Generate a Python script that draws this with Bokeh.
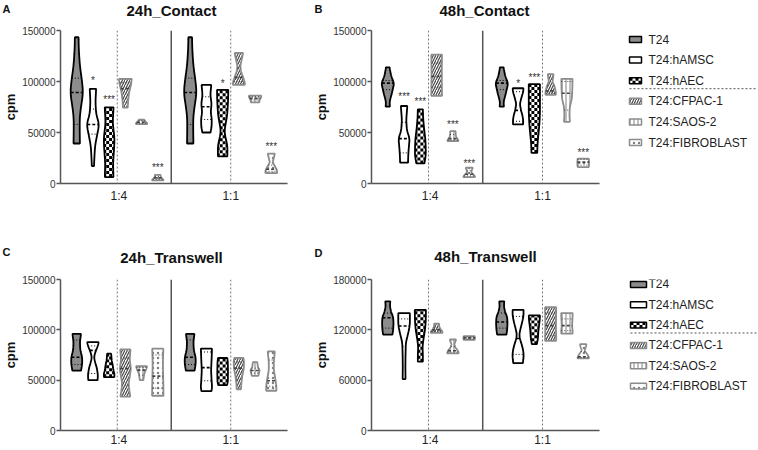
import numpy as np
from bokeh.plotting import figure
from bokeh.models import Range1d, FixedTicker, Span, NumeralTickFormatter
from bokeh.layouts import row, column
from bokeh.embed import file_html
from bokeh.resources import INLINE
from bokeh.core.properties import value

# ---------------- data ----------------
groups = ["1:4", "1:1"]
cells = ["T24", "T24:hAMSC", "T24:hAEC", "T24:CFPAC-1", "T24:SAOS-2", "T24:FIBROBLAST"]
titles = ["24h_Contact", "48h_Contact", "24h_Transwell", "48h_Transwell"]
letters = ["A", "B", "C", "D"]
yticks_ABC = [0, 50000, 100000, 150000]
yticks_D = [0, 60000, 120000, 180000]

# violin profiles: y levels (cpm) and relative half-widths; order = 1:4 (6 cells), 1:1 (6 cells)
A_ys = [[39200, 50000, 65000, 75000, 89000, 100000, 115000, 130000, 143400],
        [17100, 25000, 37000, 48000, 58000, 68000, 80000, 92800],
        [6300, 20000, 35000, 44000, 60000, 74700],
        [74400, 82000, 90000, 97000, 102600],
        [58200, 59500, 61000, 62500],
        [3000, 5000, 7000, 8500],
        [39200, 50000, 65000, 75000, 89000, 100000, 115000, 130000, 143400],
        [50000, 55000, 63000, 70000, 78000, 87000, 96700],
        [26600, 33000, 39000, 45000, 51000, 58000, 66000, 76000, 85000, 91800],
        [96700, 100000, 105000, 110000, 115000, 120000, 128000],
        [79600, 82000, 84500, 86200],
        [10200, 13000, 17000, 21000, 25000, 29300]]
A_ws = [[0.45, 0.42, 0.42, 0.6, 0.9, 0.75, 0.45, 0.3, 0.25],
        [0.15, 0.2, 0.3, 0.6, 0.88, 0.45, 0.35, 0.45],
        [0.6, 0.55, 0.7, 0.75, 0.5, 0.62],
        [0.33, 0.4, 0.55, 0.8, 0.9],
        [0.8, 0.75, 0.5, 0.4],
        [0.85, 0.6, 0.4, 0.4],
        [0.45, 0.42, 0.42, 0.6, 0.9, 0.75, 0.45, 0.3, 0.25],
        [0.55, 0.72, 0.75, 0.6, 0.72, 0.55, 0.68],
        [0.65, 0.68, 0.62, 0.4, 0.25, 0.4, 0.62, 0.72, 0.78, 0.78],
        [0.85, 0.8, 0.55, 0.3, 0.2, 0.35, 0.6],
        [0.6, 0.62, 0.85, 0.85],
        [0.83, 0.8, 0.5, 0.2, 0.35, 0.5]]
A_med = [89200, 57900, 44000, 93000, 60000, 5500, 89200, 75300, 62000, 104000, 83500, 14000]
A_q1 = [57900, 48400, 28000, 83000, 59000, 4000, 57900, 62800, 38000, 100000, 82000, 12000]
A_q3 = [103300, 73000, 58000, 99000, 61500, 7000, 103300, 85000, 84000, 113000, 85000, 18000]
A_stars = [(1, "*", 104000), (2, "***", 85000), (5, "***", 18400), (8, "*", 100600), (11, "***", 39000)]

B_ys = [[75300, 80000, 88000, 98000, 106000, 113800],
        [20400, 30000, 40000, 44000, 52000, 62000, 76000],
        [19700, 27000, 35000, 43000, 55000, 65000, 72700],
        [85900, 95000, 105000, 115000, 126300],
        [41500, 43000, 46000, 49000, 51300],
        [6300, 8000, 11000, 13000, 15500],
        [75300, 80000, 88000, 98000, 106000, 113800],
        [57900, 62000, 67000, 72000, 78000, 85000, 90000, 93400],
        [30000, 40000, 50000, 60000, 70000, 80000, 90000, 97400],
        [86900, 90000, 95000, 100000, 104000, 107300],
        [60500, 67000, 75000, 83000, 92000, 102600],
        [16100, 18000, 21000, 24300]]
B_ws = [[0.3, 0.25, 0.55, 0.88, 0.45, 0.25],
        [0.55, 0.6, 0.72, 0.78, 0.4, 0.3, 0.45],
        [0.55, 0.75, 0.75, 0.7, 0.5, 0.38, 0.35],
        [0.75, 0.73, 0.72, 0.72, 0.75],
        [0.78, 0.7, 0.45, 0.38, 0.38],
        [0.85, 0.7, 0.3, 0.35, 0.5],
        [0.3, 0.25, 0.55, 0.88, 0.45, 0.25],
        [0.7, 0.72, 0.6, 0.4, 0.25, 0.5, 0.72, 0.75],
        [0.4, 0.45, 0.6, 0.72, 0.78, 0.78, 0.78, 0.78],
        [0.72, 0.72, 0.55, 0.25, 0.35, 0.4],
        [0.42, 0.35, 0.4, 0.68, 0.75, 0.78],
        [0.78, 0.8, 0.82, 0.78]]
B_med = [98400, 44000, 40800, 105000, 44000, 9000, 98400, 71700, 65000, 90800, 88500, 21000]
B_q1 = [92000, 30000, 30000, 94000, 42500, 7500, 92000, 61000, 50000, 88500, 72000, 18000]
B_q3 = [101000, 60000, 52000, 118000, 48000, 12500, 101000, 90000, 85000, 96000, 100000, 23500]
B_stars = [(1, "***", 87800), (2, "***", 83600), (4, "***", 60500), (5, "***", 22700),
           (7, "*", 100700), (8, "***", 107000), (11, "***", 33600)]

C_ys = [[59500, 63000, 68000, 73000, 80000, 88000, 96000],
        [50000, 55000, 62000, 68000, 73000, 78000, 84000, 87800],
        [53000, 56000, 60000, 65000, 70000, 76300],
        [33600, 40000, 47000, 55000, 62000, 70000, 80600],
        [50000, 53000, 57000, 61000, 63800],
        [34500, 45000, 55000, 65000, 75000, 81300],
        [59500, 63000, 68000, 73000, 80000, 88000, 96000],
        [39200, 42000, 50000, 60000, 70000, 81300],
        [45000, 48000, 58000, 68000, 72000],
        [41000, 47000, 55000, 62000, 68000, 72000],
        [54300, 57000, 60000, 63000, 68000],
        [39500, 45000, 52000, 60000, 68000, 78600]]
C_ws = [[0.6, 0.7, 0.78, 0.75, 0.5, 0.45, 0.6],
        [0.65, 0.7, 0.55, 0.3, 0.15, 0.35, 0.68, 0.82],
        [0.72, 0.75, 0.6, 0.5, 0.35, 0.28],
        [0.7, 0.55, 0.45, 0.65, 0.78, 0.6, 0.72],
        [0.25, 0.3, 0.4, 0.65, 0.78],
        [0.8, 0.78, 0.75, 0.72, 0.75, 0.78],
        [0.6, 0.7, 0.78, 0.75, 0.5, 0.45, 0.6],
        [0.68, 0.8, 0.72, 0.65, 0.72, 0.78],
        [0.6, 0.72, 0.75, 0.72, 0.65],
        [0.3, 0.35, 0.5, 0.7, 0.72, 0.65],
        [0.45, 0.55, 0.65, 0.4, 0.3],
        [0.72, 0.7, 0.55, 0.35, 0.35, 0.5]]
C_med = [72700, 79600, 58000, 61500, 60000, 54000, 72700, 62500, 57000, 62000, 59600, 49400]
C_q1 = [65500, 56600, 55000, 45000, 55000, 42000, 65500, 49400, 50000, 50000, 57000, 44000]
C_q3 = [90000, 84000, 66000, 72000, 62500, 75000, 90000, 78000, 66000, 68000, 62000, 70000]
C_stars = []

D_ys = [[114400, 120000, 128000, 135000, 142000, 148000, 154000],
        [61300, 75000, 90000, 105000, 115000, 125000, 132000, 140000],
        [82100, 90000, 100000, 110000, 120000, 130000, 143800],
        [116300, 118000, 121000, 124000, 127300],
        [92000, 95000, 99000, 103000, 108500],
        [108000, 110400, 112400],
        [114400, 120000, 128000, 135000, 142000, 148000, 154000],
        [80200, 85000, 92000, 100000, 108000, 113600, 120000, 130000, 138000, 143800],
        [103000, 110000, 118000, 125000, 132000, 137200],
        [106900, 115000, 125000, 135000, 147000],
        [115500, 120000, 125000, 130000, 135000, 140000],
        [86000, 89000, 93000, 96000, 99000, 103000]]
D_ws = [[0.65, 0.75, 0.8, 0.75, 0.45, 0.3, 0.35],
        [0.2, 0.18, 0.2, 0.25, 0.55, 0.8, 0.82, 0.8],
        [0.35, 0.35, 0.3, 0.45, 0.65, 0.75, 0.78],
        [0.82, 0.8, 0.55, 0.35, 0.35],
        [0.82, 0.7, 0.35, 0.2, 0.45],
        [0.78, 0.8, 0.78],
        [0.65, 0.75, 0.8, 0.75, 0.45, 0.3, 0.35],
        [0.65, 0.75, 0.78, 0.6, 0.3, 0.15, 0.3, 0.6, 0.78, 0.75],
        [0.35, 0.5, 0.55, 0.65, 0.75, 0.78],
        [0.78, 0.76, 0.74, 0.76, 0.78],
        [0.8, 0.78, 0.72, 0.75, 0.78, 0.8],
        [0.82, 0.7, 0.4, 0.2, 0.35, 0.45]]
D_med = [134400, 124600, 125000, 120000, 95000, 110400, 129300, 109600, 126000, 125000, 125000, 88000]
D_q1 = [122000, 100000, 105000, 118000, 93500, 109000, 122000, 90800, 115000, 113000, 119000, 87000]
D_q3 = [140000, 133000, 138000, 123000, 100000, 111500, 140000, 136000, 133000, 140000, 133000, 94000]
D_stars = []

# ---------------- styling ----------------
FONT = "Liberation Sans"
MAXW = 0.44
GRAY_LINE = "#8c8c8c"
FRAME_W = 232.0
FRAME_H = 153.0
STYLES = [
    dict(fill_color="#8c8c8c", line_color="black"),
    dict(fill_color="white", line_color="black"),
    dict(fill_color="white", line_color="black"),
    dict(fill_color="white", line_color=GRAY_LINE, hatch_pattern="right_diagonal_line",
         hatch_color="#454545", hatch_scale=5, hatch_weight=1.2),
    dict(fill_color="white", line_color=GRAY_LINE, hatch_pattern="vertical_line",
         hatch_color="#808080", hatch_scale=4, hatch_weight=1),
    dict(fill_color="white", line_color=GRAY_LINE, hatch_pattern="dot",
         hatch_color="#808080", hatch_scale=5, hatch_weight=1),
]
MED_COL = ["black", "black", "black", "#444444", "#444444", "#444444"]
POS = [g * 7 + c + 1 for g in range(2) for c in range(6)]


def smooth_profile(ys, ws):
    ys = np.asarray(ys, float)
    ws = np.asarray(ws, float)
    yy = np.linspace(ys[0], ys[-1], 41)
    ww = np.interp(yy, ys, ws)
    if len(ys) > 3:
        pad = np.concatenate([np.full(2, ww[0]), ww, np.full(2, ww[-1])])
        ww = np.convolve(pad, np.ones(5) / 5, mode="valid")
    return yy, ww


def checker_cells(cx, yy, ww, dx, dy):
    L, R, B, T = [], [], [], []
    y = yy[0]
    r = 0
    while y < yy[-1] - 1e-9:
        y2 = min(y + dy, yy[-1])
        w = np.interp((y + y2) / 2, yy, ww) * MAXW
        j0 = int(np.floor(-w / dx))
        j1 = int(np.ceil(w / dx))
        for j in range(j0, j1):
            if (r + j) % 2:
                continue
            x0 = max(cx + j * dx, cx - w)
            x1 = min(cx + (j + 1) * dx, cx + w)
            if x1 > x0:
                L.append(x0); R.append(x1); B.append(y); T.append(y2)
        y = y2
        r += 1
    return L, R, B, T


def make_panel(k, ys_l, ws_l, med, q1, q3, stars, ymax, yticks, width, height,
               bleft, bright, btop, bbottom, xstand):
    p = figure(width=width, height=height, x_range=Range1d(0, 14), y_range=Range1d(0, ymax),
               output_backend="svg", toolbar_location=None,
               min_border_left=bleft, min_border_right=bright, min_border_top=btop,
               min_border_bottom=bbottom)
    p.title.visible = False
    p.outline_line_color = None
    p.xgrid.visible = False
    p.ygrid.visible = False
    p.background_fill_color = "white"
    p.border_fill_color = "white"

    p.add_layout(Span(location=6.83, dimension="height", line_color="#555555", line_width=1.5))
    for loc in (3.5, 10.5):
        p.add_layout(Span(location=loc, dimension="height", line_color="#777777",
                          line_width=1, line_dash="2 2"))

    dx = 3.0 * 14 / FRAME_W
    dy = 3.0 * ymax / FRAME_H
    for c in range(6):
        xs_all, ys_all = [], []
        mx0, mx1, my = [], [], []
        qx0, qx1, qy = [], [], []
        cl, cr, cb, ct = [], [], [], []
        for g in range(2):
            i = g * 6 + c
            yy, ww = smooth_profile(ys_l[i], ws_l[i])
            cx = POS[i]
            xs_all.append(list(cx - ww * MAXW) + list(cx + ww[::-1] * MAXW))
            ys_all.append(list(yy) + list(yy[::-1]))
            wm = np.interp(med[i], yy, ww) * MAXW
            mx0.append(cx - wm); mx1.append(cx + wm); my.append(med[i])
            for qv in (q1[i], q3[i]):
                wq = np.interp(qv, yy, ww) * MAXW
                qx0.append(cx - wq); qx1.append(cx + wq); qy.append(qv)
            if c == 2:
                L, R, B, T = checker_cells(cx, yy, ww, dx, dy)
                cl += L; cr += R; cb += B; ct += T
        if c == 2:
            p.patches(xs=xs_all, ys=ys_all, fill_color="white", line_color=None)
            p.quad(left=cl, right=cr, bottom=cb, top=ct, fill_color="black", line_color=None)
            p.patches(xs=xs_all, ys=ys_all, fill_color=None, line_color="black", line_width=1.8)
        else:
            p.patches(xs=xs_all, ys=ys_all, line_width=1.8, **STYLES[c])
            p.segment(x0=qx0, x1=qx1, y0=qy, y1=qy, line_color=MED_COL[c], line_width=1,
                      line_dash="1 2")
            p.segment(x0=mx0, x1=mx1, y0=my, y1=my, line_color=MED_COL[c], line_width=1.6,
                      line_dash="3 2")

    if stars:
        p.text(x=[POS[s[0]] for s in stars], y=[s[2] for s in stars], text=[s[1] for s in stars],
               text_font=value(FONT), text_font_size="10px", text_color="#333333",
               text_align="center", text_baseline="middle", y_offset=3)

    xa = p.xaxis[0]
    xa.ticker = FixedTicker(ticks=[3.6, 10.5])
    xa.major_label_overrides = {3.6: groups[0], 10.5: groups[1]}
    xa.major_tick_out = 0
    xa.major_tick_in = 0
    xa.minor_tick_out = 0
    xa.minor_tick_in = 0
    xa.axis_line_color = "#555555"
    xa.axis_line_width = 1.5
    xa.major_label_text_font = FONT
    xa.major_label_text_font_size = "12px"
    xa.major_label_text_color = "#222222"
    xa.major_label_standoff = xstand

    ya = p.yaxis[0]
    ya.ticker = FixedTicker(ticks=yticks)
    ya.formatter = NumeralTickFormatter(format="0")
    ya.major_tick_out = 4
    ya.major_tick_in = 0
    ya.minor_tick_out = 0
    ya.minor_tick_in = 0
    ya.axis_line_color = "#555555"
    ya.axis_line_width = 1.5
    ya.major_tick_line_color = "#555555"
    ya.major_tick_line_width = 1.5
    ya.major_label_text_font = FONT
    ya.major_label_text_font_size = "10px"
    ya.major_label_text_color = "#333333"
    ya.major_label_standoff = 1
    ya.axis_label = "cpm"
    ya.axis_label_text_font = FONT
    ya.axis_label_text_font_size = "13px"
    ya.axis_label_text_font_style = "bold"
    ya.axis_label_text_color = "#111111"
    ya.axis_label_standoff = 1
    return p


def make_legend(width, height, btop, bbottom, x0, y0, sw):
    lg = figure(width=width, height=height, x_range=Range1d(0, width),
                y_range=Range1d(height - bbottom, btop),
                output_backend="svg", toolbar_location=None, x_axis_type=None, y_axis_type=None,
                min_border_left=0, min_border_right=0, min_border_top=btop, min_border_bottom=bbottom)
    lg.title.visible = False
    lg.outline_line_color = None
    lg.xgrid.visible = False
    lg.ygrid.visible = False
    rows = [y0 + i * 20.6 for i in range(6)]
    for c in range(6):
        if c == 2:
            lg.quad(left=[x0], right=[x0 + sw], top=[rows[c] - 3], bottom=[rows[c] + 3],
                    fill_color="white", line_color=None)
            L, R, B, T = [], [], [], []
            for r in range(2):
                for j in range(int(np.ceil(sw / 3.0))):
                    if (r + j) % 2 == 0:
                        L.append(x0 + 3 * j); R.append(min(x0 + 3 * j + 3, x0 + sw))
                        T.append(rows[c] - 3 + 3 * r); B.append(rows[c] + 3 * r)
            lg.quad(left=L, right=R, top=T, bottom=B, fill_color="black", line_color=None)
            lg.quad(left=[x0], right=[x0 + sw], top=[rows[c] - 3], bottom=[rows[c] + 3],
                    fill_color=None, line_color="black", line_width=1.5)
        else:
            lg.quad(left=[x0], right=[x0 + sw], top=[rows[c] - 3], bottom=[rows[c] + 3],
                    line_width=1.5, **STYLES[c])
    lg.text(x=[37] * 6, y=rows, text=cells, text_font=value(FONT), text_font_size="12px",
            text_color="#222222", text_align="left", text_baseline="middle")
    dyl = rows[2] + 8
    lg.segment(x0=[x0], x1=[width], y0=[dyl], y1=[dyl], line_color="#555555", line_width=1,
               line_dash="2 2")
    return lg


H1, H2 = 240, 209
pA = make_panel(0, A_ys, A_ws, A_med, A_q1, A_q3, A_stars, 150000, yticks_ABC, 311, H1, 55, 24, 30, 57, 5)
pB = make_panel(1, B_ys, B_ws, B_med, B_q1, B_q3, B_stars, 150000, yticks_ABC, 300, H1, 55, 12, 30, 57, 5)
pC = make_panel(2, C_ys, C_ws, C_med, C_q1, C_q3, C_stars, 150000, yticks_ABC, 311, H2, 55, 24, 39, 17, 2)
pD = make_panel(3, D_ys, D_ws, D_med, D_q1, D_q3, D_stars, 180000, yticks_D, 300, H2, 55, 12, 39, 17, 2)
lB = make_legend(146, H1, 30, 57, 18, 39, 12)
lD = make_legend(146, H2, 39, 17, 19, 44, 16)

# transparent overlay carrying panel letters and panel titles (page coordinates)
ov = figure(width=757, height=H1 + H2, x_range=Range1d(0, 757), y_range=Range1d(H1 + H2, 0),
            output_backend="svg", toolbar_location=None, x_axis_type=None, y_axis_type=None,
            min_border=0, margin=(-(H1 + H2), 0, 0, 0))
ov.title.visible = False
ov.outline_line_color = None
ov.xgrid.visible = False
ov.ygrid.visible = False
ov.background_fill_color = None
ov.border_fill_color = None
ov.text(x=[6, 318, 6, 318], y=[8, 8, 251, 252], text=letters, text_font=value(FONT),
        text_font_size="11px", text_font_style="bold", text_color="#111111",
        text_align="center", text_baseline="middle")
ov.text(x=[171, 484, 171, 485], y=[10, 10, 257, 256], text=titles, text_font=value(FONT),
        text_font_size="15px", text_font_style="bold", text_color="#111111",
        text_align="center", text_baseline="middle")

layout = column(row(pA, pB, lB), row(pC, pD, lD), ov)
open("out.html", "w").write(file_html(layout, INLINE))
